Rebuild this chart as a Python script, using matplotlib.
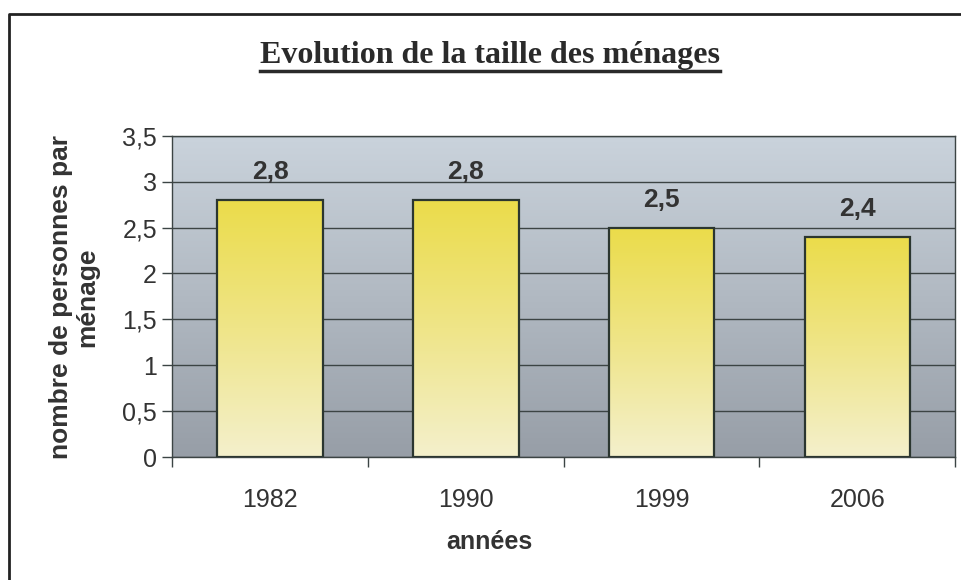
import numpy as np
import matplotlib
matplotlib.use('Agg')
import matplotlib.pyplot as plt
from matplotlib.colors import LinearSegmentedColormap
from matplotlib.lines import Line2D

# chart data
years = ['1982', '1990', '1999', '2006']
household_size = [2.8, 2.8, 2.5, 2.4]
value_labels = ['2,8', '2,8', '2,5', '2,4']
ytick_values = [0, 0.5, 1, 1.5, 2, 2.5, 3, 3.5]
ytick_labels = ['0', '0,5', '1', '1,5', '2', '2,5', '3', '3,5']

title = 'Evolution de la taille des ménages'
xlabel = 'années'
ylabel = 'nombre de personnes par\nménage'

plt.rcParams['font.family'] = ['Liberation Sans', 'DejaVu Sans']
text_color = '#333333'

fig = plt.figure(figsize=(9.62, 5.8), dpi=100)
ax = fig.add_axes([0.179, 0.212, 0.814, 0.554])

x = np.arange(len(years))
ax.set_xlim(-0.5, len(years) - 0.5)
ax.set_ylim(0, 3.5)

# plot area gradient (light blue-grey on top, darker grey at bottom)
bg_cmap = LinearSegmentedColormap.from_list('bg', ['#979ea7', '#b1b9c2', '#cad3dc'])
grad = np.linspace(0, 1, 256).reshape(-1, 1)
ax.imshow(grad, extent=(-0.5, len(years) - 0.5, 0, 3.5), origin='lower',
          aspect='auto', cmap=bg_cmap, zorder=0)

# grid lines
for v in ytick_values:
    ax.axhline(v, color='#3c4444', lw=1.0, zorder=1)

# bars with yellow gradient
bar_cmap = LinearSegmentedColormap.from_list('bar', ['#f4f0cc', '#efe588', '#ebdc4a'])
bars = ax.bar(x, household_size, width=0.54, facecolor='none',
              edgecolor='#2b3630', linewidth=1.6, zorder=3)
for b in bars:
    img = ax.imshow(grad, extent=(b.get_x(), b.get_x() + b.get_width(), 0, b.get_height()),
                    origin='lower', aspect='auto', cmap=bar_cmap, zorder=2)
    img.set_clip_path(b)

ax.set_xlim(-0.5, len(years) - 0.5)
ax.set_ylim(0, 3.5)

# value labels
for xi, v, lab in zip(x, household_size, value_labels):
    ax.text(xi, v + 0.3, lab, ha='center', va='center', fontsize=19,
            fontweight='bold', color=text_color, zorder=4)

# axes and ticks
for s in ax.spines.values():
    s.set_color('#3c4444')
    s.set_linewidth(1.0)
ax.set_yticks(ytick_values)
ax.set_yticklabels(ytick_labels)
ax.tick_params(axis='y', length=7, width=1, color='#3c4444', pad=4,
               labelsize=18, labelcolor=text_color)
ax.set_xticks(x)
ax.set_xticklabels(years)
ax.tick_params(axis='x', which='major', length=0, pad=22, labelsize=18,
               labelcolor=text_color)
ax.set_xticks(np.arange(-0.5, len(years)), minor=True)
ax.tick_params(axis='x', which='minor', length=7, width=1, color='#3c4444')

fig.text(0.509, 1 - 542 / 580, xlabel, ha='center', va='center', fontsize=18,
         fontweight='bold', color=text_color)
fig.text(74 / 962, 1 - 297 / 580, ylabel, ha='center', va='center', rotation=90,
         fontsize=19, fontweight='bold', color=text_color, linespacing=1.15,
         multialignment='center')

# title, underlined
t = fig.text(490 / 962, 1 - 55 / 580, title, ha='center', va='center',
             fontsize=23, fontweight='bold', family='Liberation Serif',
             color='#2a2a2a')
fig.canvas.draw()
bb = t.get_window_extent().transformed(fig.transFigure.inverted())
fig.add_artist(Line2D([bb.x0, bb.x1], [1 - 71 / 580] * 2, color='#2a2a2a',
                      lw=2.5, transform=fig.transFigure))

# outer frame of the chart
fig.add_artist(Line2D([9 / 962, 9 / 962, 1.0], [0.0, 1 - 14 / 580, 1 - 14 / 580],
                      color='#222222', lw=2.0, transform=fig.transFigure))

fig.savefig('out.png', dpi=100, facecolor='white')
